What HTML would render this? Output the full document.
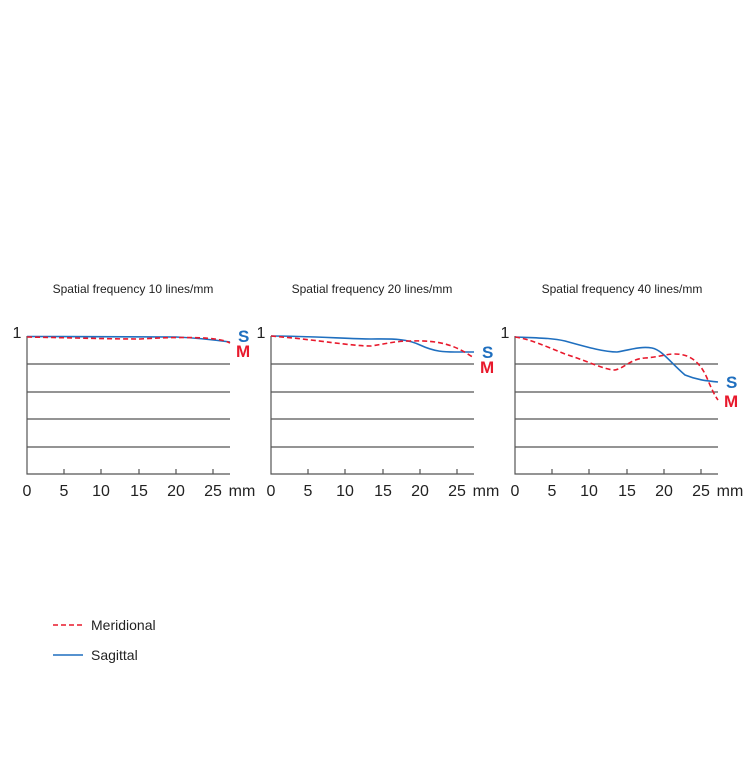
<!DOCTYPE html>
<html><head><style>body{margin:0;background:#fff}</style></head><body>
<svg width="756" height="756" viewBox="0 0 756 756" xmlns="http://www.w3.org/2000/svg" font-family="Liberation Sans, sans-serif">
<g font-size="12" fill="#222" text-anchor="middle">
<text x="133" y="293">Spatial frequency 10 lines/mm</text>
<text x="372" y="293">Spatial frequency 20 lines/mm</text>
<text x="622" y="293">Spatial frequency 40 lines/mm</text>
</g>
<g stroke="#555" stroke-width="1.2" fill="none">
<path d="M27 336V474H230M27 364H230M27 392H230M27 419H230M27 447H230M64 474v-5M101 474v-5M139 474v-5M176 474v-5M213 474v-5"/>
<path d="M271 336V474H474M271 364H474M271 392H474M271 419H474M271 447H474M308 474v-5M345 474v-5M383 474v-5M420 474v-5M457 474v-5"/>
<path d="M515 336V474H718M515 364H718M515 392H718M515 419H718M515 447H718M552 474v-5M589 474v-5M627 474v-5M664 474v-5M701 474v-5"/>
</g>
<g font-size="16" fill="#222" text-anchor="middle">
<text x="17" y="338">1</text><text x="261" y="338">1</text><text x="505" y="338">1</text>
<text x="27" y="496">0</text><text x="64" y="496">5</text><text x="101" y="496">10</text><text x="139" y="496">15</text><text x="176" y="496">20</text><text x="213" y="496">25</text><text x="242" y="496">mm</text>
<text x="271" y="496">0</text><text x="308" y="496">5</text><text x="345" y="496">10</text><text x="383" y="496">15</text><text x="420" y="496">20</text><text x="457" y="496">25</text><text x="486" y="496">mm</text>
<text x="515" y="496">0</text><text x="552" y="496">5</text><text x="589" y="496">10</text><text x="627" y="496">15</text><text x="664" y="496">20</text><text x="701" y="496">25</text><text x="730" y="496">mm</text>
</g>
<g fill="none" stroke-width="1.6">
<path stroke="#1f6fbf" d="M27 336.5C80 336.5 140 337 176 337C200 338 215 340 230 342"/>
<path stroke="#e8192c" stroke-dasharray="5,3" d="M27 337C80 338 110 339 140 339C170 337 200 337 215 339C222 340 226 341 230 343"/>
<path stroke="#1f6fbf" d="M271 336C310 336 350 339 371 339C390 339 405 338 420 345C435 352 445 352 455 352L474 352"/>
<path stroke="#e8192c" stroke-dasharray="5,3" d="M271 336C320 340 350 346 371 346C385 344 395 341 410 341C440 340 455 345 474 358"/>
<path stroke="#1f6fbf" d="M515 337C540 338 552 338 565 341C590 348 605 352 617 352C630 350 640 346 652 348C662 350 670 362 685 375C700 381 710 381 718 382"/>
<path stroke="#e8192c" stroke-dasharray="5,3" d="M515 337C530 339 545 346 565 354C590 362 605 370 615 370C625 368 630 359 645 358C660 357 665 354 675 354C690 354 700 362 707 378C712 390 715 396 718 400"/>
</g>
<g font-size="17" font-weight="bold">
<text x="238" y="342" fill="#1f6fbf">S</text><text x="236" y="357" fill="#e8192c">M</text>
<text x="482" y="358" fill="#1f6fbf">S</text><text x="480" y="373" fill="#e8192c">M</text>
<text x="726" y="388" fill="#1f6fbf">S</text><text x="724" y="407" fill="#e8192c">M</text>
</g>
<path d="M53 625H83" stroke="#e8192c" stroke-width="1.6" stroke-dasharray="5,3"/>
<path d="M53 655H83" stroke="#1f6fbf" stroke-width="1.6"/>
<text x="91" y="630" font-size="14" fill="#222">Meridional</text>
<text x="91" y="660" font-size="14" fill="#222">Sagittal</text>
</svg>
</body></html>
